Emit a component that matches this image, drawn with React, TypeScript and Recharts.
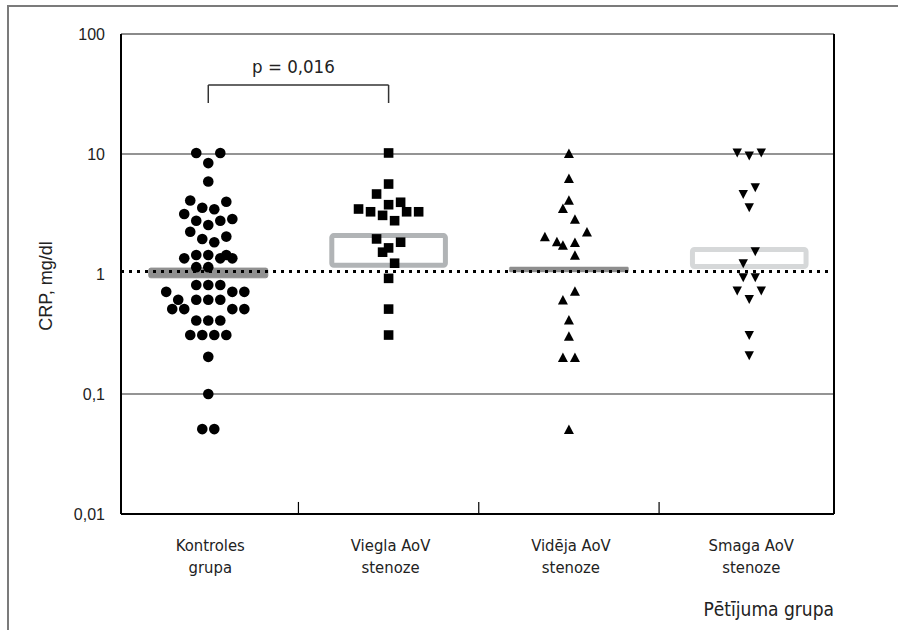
import React from 'react';
import { ScatterChart, Scatter, XAxis, YAxis, ReferenceLine, ReferenceArea, Label } from 'recharts';

// ---- data ----
const groupLabels: string[][] = [
  ['Kontroles', 'grupa'],
  ['Viegla AoV', 'stenoze'],
  ['Vidēja AoV', 'stenoze'],
  ['Smaga AoV', 'stenoze'],
];
const groupIndex = [0, 1, 2, 3];
const yTicks = [0.01, 0.1, 1, 10, 100];
const gridValues = [10, 0.1];
const refValue = 1.05;
const boundaries = [0.5, 1.5, 2.5];
const boxLow = [0.93, 1.18, 1.04, 1.155];
const boxHigh = [1.12, 2.09, 1.144, 1.6];
const pLabel = 'p = 0,016';
const bracketTop = 37.6;
const bracketFoot = 26.6;

// [horizontal jitter step, CRP mg/dl]
const kontroles: [number, number][] = [
  [-2, 10.2], [2, 10.2], [0, 8.4], [0, 5.9], [-3, 4.1], [3, 4.0], [-1, 3.57], [1, 3.46],
  [-4, 3.16], [4, 2.87], [-2, 2.78], [2, 2.78], [0, 2.56], [-3, 2.25], [3, 2.05], [-1, 1.96],
  [1, 1.84], [-4, 1.35], [-2, 1.44], [0, 1.44], [2, 1.35], [3, 1.44], [4, 1.35], [-2, 1.14],
  [0, 1.14], [-2, 0.81], [0, 0.81], [2, 0.81], [-7, 0.71], [4, 0.71], [6, 0.71], [-5, 0.61],
  [-2, 0.61], [0, 0.61], [2, 0.61], [-6, 0.51], [-4, 0.51], [4, 0.51], [6, 0.51], [-2, 0.41],
  [0, 0.41], [2, 0.41], [-3, 0.31], [-1, 0.31], [1, 0.31], [3, 0.31], [0, 0.204], [0, 0.1],
  [-1, 0.051], [1, 0.051],
];
const viegla: [number, number][] = [
  [0, 10.2], [0, 5.62], [-2, 4.64], [0, 3.78], [2, 3.96], [-5, 3.48], [-3, 3.3], [-1, 3.08],
  [3, 3.3], [5, 3.3], [1, 2.78], [-2, 1.96], [2, 1.84], [0, 1.65], [-1, 1.52], [1, 1.23],
  [0, 0.92], [0, 0.51], [0, 0.31],
];
const videja: [number, number][] = [
  [0, 10], [0, 6.2], [0, 4.08], [-1, 3.48], [1, 2.83], [3, 2.22], [-4, 2.02], [-2, 1.84],
  [-1, 1.72], [1, 1.81], [1, 1.42], [1, 0.71], [-1, 0.6], [0, 0.41], [0, 0.3], [-1, 0.2],
  [1, 0.2], [0, 0.05],
];
const smaga: [number, number][] = [
  [-2, 10.3], [0, 9.7], [2, 10.3], [1, 5.28], [-1, 4.64], [0, 3.6], [1, 1.55], [-1, 1.23],
  [-1, 0.94], [1, 0.94], [-2, 0.73], [2, 0.73], [0, 0.62], [0, 0.31], [0, 0.21],
];

// ---- layout ----
const JIT = 1 / 30;
const X_DOMAIN: [number, number] = [-0.484, 3.47];
const BOX_HALF = 0.33;
const OUTLINE_HALF = 0.315;
const COND = "'DejaVu Sans Condensed', 'DejaVu Sans', sans-serif";
const SANS = "'Liberation Sans', Arial, sans-serif";

const toPoints = (g: number, arr: [number, number][]) => arr.map(([d, v]) => ({ x: g + d * JIT, y: v }));

const Dot = (p: any) => <circle cx={p.cx} cy={p.cy} r={5.3} fill="#000" />;
const Sq = (p: any) => <rect x={p.cx - 4.8} y={p.cy - 4.8} width={9.6} height={9.6} fill="#000" />;
const TriUp = (p: any) => (
  <polygon points={`${p.cx},${p.cy - 5.5} ${p.cx + 5},${p.cy + 4} ${p.cx - 5},${p.cy + 4}`} fill="#000" />
);
const TriDown = (p: any) => (
  <polygon points={`${p.cx - 4.7},${p.cy - 4} ${p.cx + 4.7},${p.cy - 4} ${p.cx},${p.cy + 5}`} fill="#000" />
);

const CatTick = (props: any) => {
  const { x, y, payload } = props;
  const lines = groupLabels[Math.round(payload.value)] || [];
  return (
    <text x={x + 2} y={y} textAnchor="middle" fontFamily={COND} fontSize={16.5} fill="#222">
      <tspan x={x + 2} dy={35}>{lines[0]}</tspan>
      <tspan x={x + 2} dy={22}>{lines[1]}</tspan>
    </text>
  );
};

const fmt = (v: number) => String(v).replace('.', ',');

export default function App() {
  return (
    <div style={{ position: 'absolute', left: 0, top: 0, width: 898, height: 630, background: '#fff', overflow: 'hidden' }}>
      <div
        style={{
          position: 'absolute', left: 7, top: 5, right: -10, bottom: -10,
          borderTop: '2px solid #7b7b7b', borderLeft: '2px solid #7b7b7b',
        }}
      />
      <div style={{ position: 'absolute', left: 0, top: 0 }}>
        <ScatterChart width={898} height={630} margin={{ top: 34, right: 64, bottom: 8, left: 61 }}>
          <XAxis
            type="number"
            dataKey="x"
            domain={X_DOMAIN}
            allowDataOverflow
            ticks={groupIndex}
            tick={<CatTick />}
            tickLine={false}
            tickSize={0}
            height={108}
            axisLine={{ stroke: '#000', strokeWidth: 2 }}
            interval={0}
          >
            <Label
              content={(p: any) => {
                const vb = p.viewBox || { x: 121, y: 514, width: 713, height: 108 };
                return (
                  <text x={vb.x + vb.width} y={vb.y + 102} textAnchor="end" fontFamily={COND} fontSize={19} fill="#222">
                    Pētījuma grupa
                  </text>
                );
              }}
            />
          </XAxis>
          <YAxis
            type="number"
            dataKey="y"
            scale="log"
            domain={[0.01, 100]}
            allowDataOverflow
            ticks={yTicks}
            tickFormatter={fmt}
            width={60}
            tickLine={false}
            tickSize={0}
            tickMargin={16}
            tick={{ fontFamily: SANS, fontSize: 16, fill: '#222' }}
            axisLine={{ stroke: '#000', strokeWidth: 2 }}
          >
            <Label
              content={(p: any) => {
                const vb = p.viewBox || { x: 61, y: 34, width: 60, height: 480 };
                const cx = 46;
                const cy = vb.y + vb.height / 2 + 12;
                return (
                  <text x={cx} y={cy} transform={`rotate(-90 ${cx} ${cy})`} textAnchor="middle" dominantBaseline="central" fontFamily={SANS} fontSize={18} fill="#222">
                    CRP, mg/dl
                  </text>
                );
              }}
            />
          </YAxis>

          <ReferenceLine y={100} stroke="#8a8a8a" strokeWidth={2} />
          {gridValues.map((v) => (
            <ReferenceLine key={v} y={v} stroke="#707070" strokeWidth={1.5} />
          ))}
          <ReferenceLine x={X_DOMAIN[1]} stroke="#000" strokeWidth={2} />
          {boundaries.map((b) => (
            <ReferenceLine key={b} segment={[{ x: b, y: 0.01 }, { x: b, y: 0.0126 }]} stroke="#000" strokeWidth={1.2} />
          ))}

          <ReferenceArea x1={0 - BOX_HALF} x2={0 + BOX_HALF} y1={boxLow[0]} y2={boxHigh[0]} fill="#909090" fillOpacity={1} stroke="#909090" strokeWidth={1} radius={2} />
          <ReferenceArea x1={1 - OUTLINE_HALF} x2={1 + OUTLINE_HALF} y1={boxLow[1]} y2={boxHigh[1]} fill="none" fillOpacity={0} stroke="#b1b4b6" strokeWidth={5} radius={2} />
          <ReferenceArea x1={2 - BOX_HALF} x2={2 + BOX_HALF} y1={boxLow[2]} y2={boxHigh[2]} fill="#8e8e8e" fillOpacity={1} stroke="#8e8e8e" strokeWidth={0.5} radius={1} />
          <ReferenceArea x1={3 - OUTLINE_HALF} x2={3 + OUTLINE_HALF} y1={boxLow[3]} y2={boxHigh[3]} fill="none" fillOpacity={0} stroke="#d6d8d9" strokeWidth={5} radius={2} />

          <ReferenceLine y={refValue} stroke="#000" strokeWidth={3} strokeDasharray="3 5" />

          <ReferenceLine
            segment={[{ x: 0, y: bracketTop }, { x: 1, y: bracketTop }]}
            stroke="#333"
            strokeWidth={1.5}
            label={{ value: pLabel, position: 'top', offset: 12, fill: '#222', fontSize: 18.5, fontFamily: COND, dx: -5 }}
          />
          <ReferenceLine segment={[{ x: 0, y: bracketFoot }, { x: 0, y: bracketTop }]} stroke="#333" strokeWidth={1.5} />
          <ReferenceLine segment={[{ x: 1, y: bracketFoot }, { x: 1, y: bracketTop }]} stroke="#333" strokeWidth={1.5} />

          <Scatter data={toPoints(0, kontroles)} shape={Dot} isAnimationActive={false} />
          <Scatter data={toPoints(1, viegla)} shape={Sq} isAnimationActive={false} />
          <Scatter data={toPoints(2, videja)} shape={TriUp} isAnimationActive={false} />
          <Scatter data={toPoints(3, smaga)} shape={TriDown} isAnimationActive={false} />
        </ScatterChart>
      </div>
    </div>
  );
}
